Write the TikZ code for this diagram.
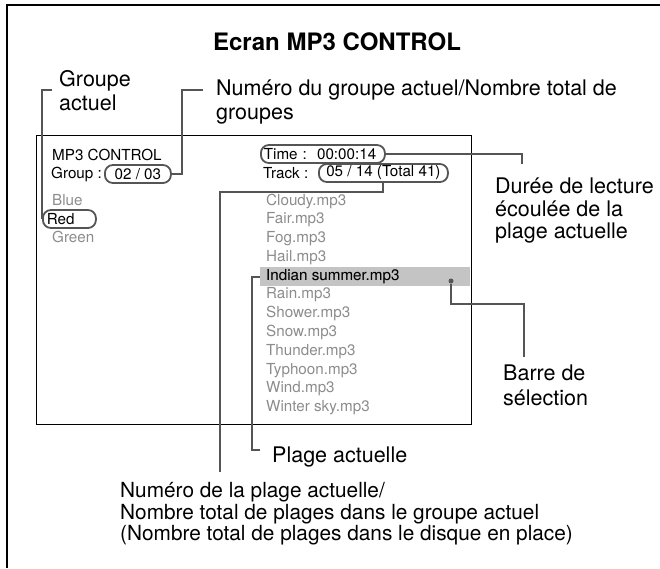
\documentclass[tikz,border=0pt]{standalone}
\usepackage{fontspec}
\setmainfont{TeX Gyre Heros}
\usetikzlibrary{calc,positioning}
\definecolor{leader}{HTML}{555555}
\definecolor{dimtext}{HTML}{8C8C8C}
\definecolor{selbar}{HTML}{C4C4C4}
\tikzset{
  % texte de l'ecran (petit)
  scr/.style={font=\fontsize{15.2}{18}\selectfont, anchor=west, inner sep=0pt},
  dim/.style={scr, text=dimtext},
  % cadre arrondi autour d'une valeur
  pill/.style={draw=leader, line width=1.8pt, rounded corners=8pt, font=\fontsize{15.2}{18}\selectfont,
               inner xsep=3pt, inner ysep=1pt, minimum height=18pt, anchor=west},
  % trait de renvoi
  leadline/.style={draw=leader, line width=2pt},
  % legende
  callout/.style={font=\fontsize{21.5}{24}\selectfont, anchor=west, align=left, inner sep=0pt},
}

\begin{document}
\begin{tikzpicture}[x=1pt,y=-1pt]
\useasboundingbox (0,0) rectangle (660,568);
\draw[line width=1.3pt] (7,568) |- (660,5);

\node[font=\fontsize{24}{28}\selectfont\bfseries] (titre) at (337,42) {Ecran MP3 CONTROL};

% =================== ECRAN ===================
\node[draw, line width=1.2pt, minimum width=435pt, minimum height=289pt, anchor=north west, inner sep=0pt] (ecran) at (36,135) {};
\node[fill=selbar, minimum width=210pt, minimum height=19pt, anchor=north west, inner sep=0pt] (bar) at (260,267) {};
\node[circle, fill=leader, inner sep=0pt, minimum size=5pt] (dot) at (451,281) {};

\node[scr] (mp3) at (52,155) {MP3 CONTROL};
\node[scr] (grplbl) at (51,174) {Group :};
\node[pill, minimum width=66pt] (grp) at (104,174) {02 / 03};
\node[dim] (blue) at (52,200) {Blue};
\node[pill, text width=45pt, align=left, inner xsep=4pt] (red) at (42,219) {Red};
\node[dim] (green) at (52,237) {Green};

\node[pill, text width=118pt, align=left] (time) at (260,154) {Time :\ \ 00:00:14};
\node[scr] (trklbl) at (263,173) {Track :};
\node[pill, minimum width=129pt] (track) at (318,173) {05 / 14 (Total 41)};

\foreach \f [count=\i from 0] in {Cloudy,Fair,Fog,Hail,Indian summer,Rain,Shower,Snow,Thunder,Typhoon,Wind,Winter sky}
  \node[dim] (trk\i) at (266,201+18.8*\i) {\f.mp3};
\node[scr] at (trk4.west) {Indian summer.mp3};

% =================== LEGENDES ===================
\node[callout] (lgrp) at (59,91) {Groupe\\actuel};
\node[callout] (lnum) at (216,102) {Numéro du groupe actuel/Nombre total de\\groupes};
\node[callout, font=\fontsize{21.5}{22.5}\selectfont] (ldur) at (495,211) {Durée de lecture\\écoulée de la\\plage actuelle};
\node[callout, font=\fontsize{21.5}{25}\selectfont] (lbar) at (503,385) {Barre de\\sélection};
\node[callout] (lpla) at (272,457) {Plage actuelle};
\node[callout, font=\fontsize{20.8}{21.5}\selectfont] (lnpl) at (120,514) {Numéro de la plage actuelle/\\Nombre total de plages dans le groupe actuel\\(Nombre total de plages dans le disque en place)};

% =================== RENVOIS ===================
\coordinate (gtick) at (52,90);
\coordinate (ntick) at (203,90);
\coordinate (dtick) at (522,164);
\coordinate (ntrk) at (220,472);
\coordinate (btick) at (524,357);
\coordinate (pbot) at (252,450);

\draw[leadline] (gtick) -| (red.west);
\draw[leadline] (ntick) -| ($(grp.east)+(10,0)$) -- (grp.east);
\draw[leadline] (time.east) -| (dtick);
\draw[leadline] (track.south) -- ++(0,9) -| (ntrk);
\draw[leadline] (dot) -- ++(0,23) -| (btick);
\draw[leadline] (bar.west) -| (pbot) -- ++(8,0);

\end{tikzpicture}
\end{document}
